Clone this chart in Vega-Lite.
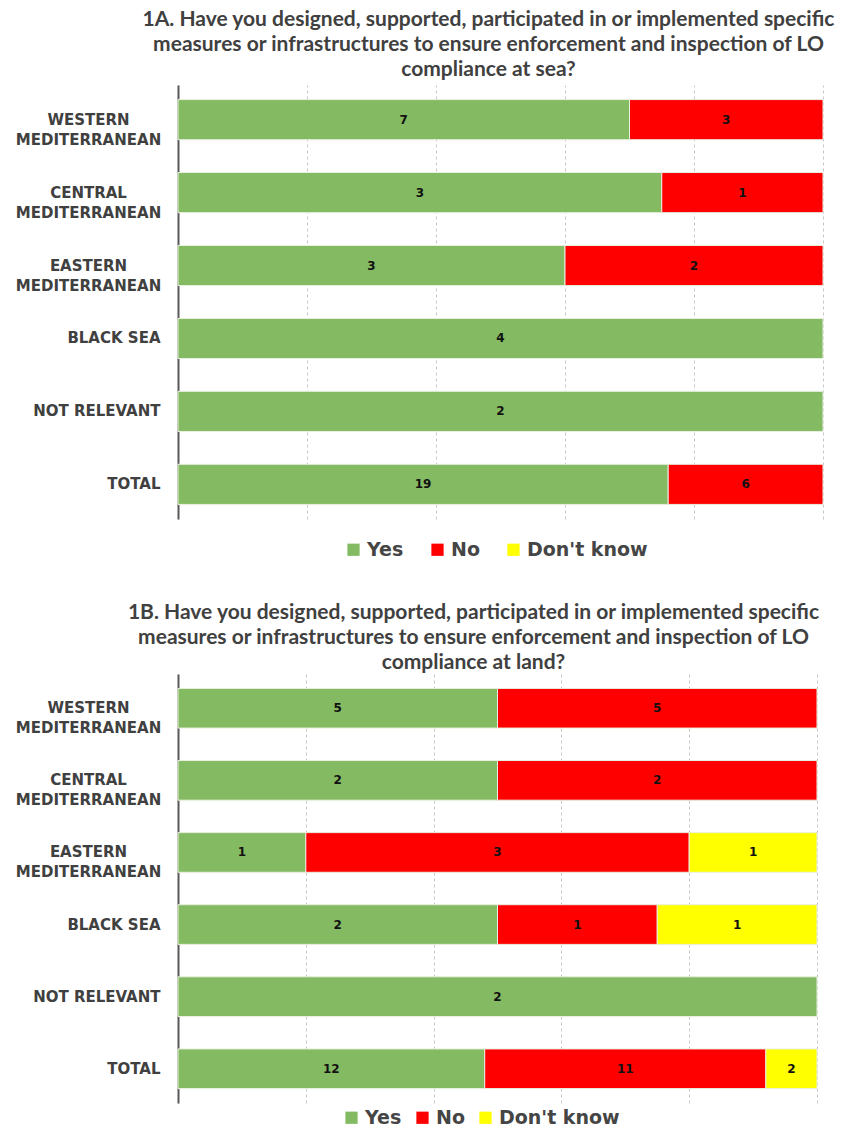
{
  "$schema": "https://vega.github.io/schema/vega-lite/v6.json",
  "background": "white",
  "padding": {"left": 15, "top": 9, "right": 5, "bottom": 5},
  "datasets": {
    "survey": [
      {"q": "1A", "region": "WESTERN MEDITERRANEAN", "answer": "Yes", "count": 7},
      {"q": "1A", "region": "WESTERN MEDITERRANEAN", "answer": "No", "count": 3},
      {"q": "1A", "region": "CENTRAL MEDITERRANEAN", "answer": "Yes", "count": 3},
      {"q": "1A", "region": "CENTRAL MEDITERRANEAN", "answer": "No", "count": 1},
      {"q": "1A", "region": "EASTERN MEDITERRANEAN", "answer": "Yes", "count": 3},
      {"q": "1A", "region": "EASTERN MEDITERRANEAN", "answer": "No", "count": 2},
      {"q": "1A", "region": "BLACK SEA", "answer": "Yes", "count": 4},
      {"q": "1A", "region": "NOT RELEVANT", "answer": "Yes", "count": 2},
      {"q": "1A", "region": "TOTAL", "answer": "Yes", "count": 19},
      {"q": "1A", "region": "TOTAL", "answer": "No", "count": 6},
      {"q": "1B", "region": "WESTERN MEDITERRANEAN", "answer": "Yes", "count": 5},
      {"q": "1B", "region": "WESTERN MEDITERRANEAN", "answer": "No", "count": 5},
      {"q": "1B", "region": "CENTRAL MEDITERRANEAN", "answer": "Yes", "count": 2},
      {"q": "1B", "region": "CENTRAL MEDITERRANEAN", "answer": "No", "count": 2},
      {"q": "1B", "region": "EASTERN MEDITERRANEAN", "answer": "Yes", "count": 1},
      {"q": "1B", "region": "EASTERN MEDITERRANEAN", "answer": "No", "count": 3},
      {"q": "1B", "region": "EASTERN MEDITERRANEAN", "answer": "Don't know", "count": 1},
      {"q": "1B", "region": "BLACK SEA", "answer": "Yes", "count": 2},
      {"q": "1B", "region": "BLACK SEA", "answer": "No", "count": 1},
      {"q": "1B", "region": "BLACK SEA", "answer": "Don't know", "count": 1},
      {"q": "1B", "region": "NOT RELEVANT", "answer": "Yes", "count": 2},
      {"q": "1B", "region": "TOTAL", "answer": "Yes", "count": 12},
      {"q": "1B", "region": "TOTAL", "answer": "No", "count": 11},
      {"q": "1B", "region": "TOTAL", "answer": "Don't know", "count": 2}
    ]
  },
  "spacing": 42,
  "resolve": {"legend": {"color": "independent"}, "scale": {"color": "independent"}},
  "vconcat": [
    {
      "title": {
        "text": ["1A. Have you designed, supported,  participated in or implemented specific", "measures or infrastructures to ensure enforcement and inspection of LO", "compliance at sea?"],
        "dx": -12,
        "offset": 5
      },
      "width": 645,
      "height": 434,
      "data": {"name": "survey"},
      "transform": [{"filter": "datum.q == '1A'"}],
      "encoding": {
        "y": {
          "field": "region",
          "type": "nominal",
          "sort": ["WESTERN MEDITERRANEAN", "CENTRAL MEDITERRANEAN", "EASTERN MEDITERRANEAN", "BLACK SEA", "NOT RELEVANT", "TOTAL"],
          "scale": {"paddingInner": 0.45, "paddingOuter": 0.2},
          "axis": {
            "title": null,
            "ticks": false,
            "domainColor": "#595959",
            "domainWidth": 2,
            "labelFont": "DejaVu Sans",
            "labelFontWeight": "bold",
            "labelFontSize": 15,
            "labelColor": "#404040",
            "labelLineHeight": 20,
            "labelAlign": {"condition": {"test": "indexof(datum.value, 'MEDITERRANEAN') >= 0", "value": "center"}, "value": "right"},
            "labelPadding": {"condition": {"test": "indexof(datum.value, 'MEDITERRANEAN') >= 0", "value": 90}, "value": 18},
            "labelExpr": "indexof(datum.value, 'MEDITERRANEAN') >= 0 ? split(datum.value, ' ') : datum.value"
          }
        },
        "x": {
          "field": "count",
          "type": "quantitative",
          "stack": "normalize",
          "scale": {"domain": [0, 1], "nice": false},
          "axis": {
            "title": null,
            "labels": false,
            "ticks": false,
            "domain": false,
            "values": [0, 0.2, 0.4, 0.6, 0.8, 1],
            "grid": true,
            "gridColor": "#C8C8C8",
            "gridDash": [3, 3]
          }
        },
        "order": {"field": "answer", "sort": "descending"}
      },
      "layer": [
        {
          "mark": {"type": "bar", "stroke": "#E8F0E0", "strokeWidth": 1},
          "encoding": {
            "color": {
              "field": "answer",
              "type": "nominal",
              "scale": {"domain": ["Yes", "No", "Don't know"], "range": ["#84BA62", "#FF0000", "#FFFF00"]},
              "legend": {
                "title": null,
                "orient": "none",
                "direction": "horizontal",
                "legendX": 166,
                "legendY": 455,
                "symbolType": "square",
                "symbolSize": 150,
                "symbolStrokeWidth": 0,
                "labelFont": "DejaVu Sans",
                "labelFontWeight": "bold",
                "labelFontSize": 19,
                "labelColor": "#454545",
                "labelOffset": 4,
                "columnPadding": 24
              }
            }
          }
        },
        {
          "mark": {"type": "text", "font": "DejaVu Sans", "fontWeight": "bold", "fontSize": 12, "color": "#111111"},
          "encoding": {
            "x": {"field": "count", "type": "quantitative", "stack": "normalize", "bandPosition": 0.5},
            "text": {"field": "count", "type": "quantitative"}
          }
        }
      ]
    },
    {
      "title": {
        "text": ["1B. Have you designed, supported, participated in or implemented specific", "measures or infrastructures to ensure enforcement and inspection of LO", "compliance at land?"],
        "dx": -24,
        "offset": 1
      },
      "width": 639,
      "height": 429,
      "data": {"name": "survey"},
      "transform": [{"filter": "datum.q == '1B'"}],
      "encoding": {
        "y": {
          "field": "region",
          "type": "nominal",
          "sort": ["WESTERN MEDITERRANEAN", "CENTRAL MEDITERRANEAN", "EASTERN MEDITERRANEAN", "BLACK SEA", "NOT RELEVANT", "TOTAL"],
          "scale": {"paddingInner": 0.45, "paddingOuter": 0.2},
          "axis": {
            "title": null,
            "ticks": false,
            "domainColor": "#595959",
            "domainWidth": 2,
            "labelFont": "DejaVu Sans",
            "labelFontWeight": "bold",
            "labelFontSize": 15,
            "labelColor": "#404040",
            "labelLineHeight": 20,
            "labelAlign": {"condition": {"test": "indexof(datum.value, 'MEDITERRANEAN') >= 0", "value": "center"}, "value": "right"},
            "labelPadding": {"condition": {"test": "indexof(datum.value, 'MEDITERRANEAN') >= 0", "value": 90}, "value": 18},
            "labelExpr": "indexof(datum.value, 'MEDITERRANEAN') >= 0 ? split(datum.value, ' ') : datum.value"
          }
        },
        "x": {
          "field": "count",
          "type": "quantitative",
          "stack": "normalize",
          "scale": {"domain": [0, 1], "nice": false},
          "axis": {
            "title": null,
            "labels": false,
            "ticks": false,
            "domain": false,
            "values": [0, 0.2, 0.4, 0.6, 0.8, 1],
            "grid": true,
            "gridColor": "#C8C8C8",
            "gridDash": [3, 3]
          }
        },
        "order": {"field": "answer", "sort": "descending"}
      },
      "layer": [
        {
          "mark": {"type": "bar", "stroke": "#E8F0E0", "strokeWidth": 1},
          "encoding": {
            "color": {
              "field": "answer",
              "type": "nominal",
              "scale": {"domain": ["Yes", "No", "Don't know"], "range": ["#84BA62", "#FF0000", "#FFFF00"]},
              "legend": {
                "title": null,
                "orient": "none",
                "direction": "horizontal",
                "legendX": 164,
                "legendY": 434,
                "symbolType": "square",
                "symbolSize": 150,
                "symbolStrokeWidth": 0,
                "labelFont": "DejaVu Sans",
                "labelFontWeight": "bold",
                "labelFontSize": 19,
                "labelColor": "#454545",
                "labelOffset": 4,
                "columnPadding": 11
              }
            }
          }
        },
        {
          "mark": {"type": "text", "font": "DejaVu Sans", "fontWeight": "bold", "fontSize": 12, "color": "#111111"},
          "encoding": {
            "x": {"field": "count", "type": "quantitative", "stack": "normalize", "bandPosition": 0.5},
            "text": {"field": "count", "type": "quantitative"}
          }
        }
      ]
    }
  ],
  "config": {
    "view": {"stroke": null},
    "title": {
      "font": "Lato",
      "fontSize": 21,
      "fontWeight": "bold",
      "color": "#404040",
      "lineHeight": 25,
      "anchor": "middle"
    }
  }
}
